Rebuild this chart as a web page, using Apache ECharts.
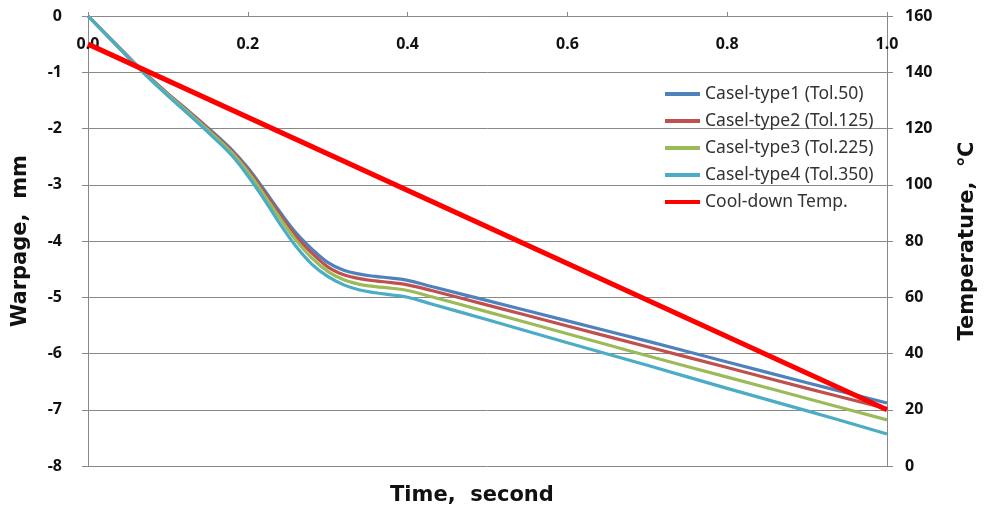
<!DOCTYPE html>
<html>
<head>
<meta charset="utf-8">
<script src="https://cdn.jsdelivr.net/npm/echarts@6/dist/echarts.min.js"></script>
<style>
html,body{margin:0;padding:0;background:#fff;}
#chart{width:984px;height:510px;}
</style>
</head>
<body>
<div id="chart"></div>
<script>
// Time points (second)
var timeSec = [0, 0.05, 0.07, 0.1, 0.13, 0.155, 0.18, 0.2, 0.22, 0.24, 0.26, 0.28, 0.3, 0.32, 0.34, 0.36, 0.38, 0.4, 0.43, 0.5, 0.6, 0.7, 0.8, 0.9, 1.0];
// Warpage (mm)
var type1 = [0, -0.72, -1.0, -1.38, -1.74, -2.05, -2.38, -2.7, -3.08, -3.48, -3.85, -4.14, -4.38, -4.52, -4.59, -4.63, -4.66, -4.7, -4.81, -5.06, -5.42, -5.78, -6.15, -6.52, -6.88];
var type2 = [0, -0.72, -1.0, -1.39, -1.75, -2.07, -2.4, -2.73, -3.12, -3.53, -3.91, -4.21, -4.46, -4.6, -4.67, -4.71, -4.74, -4.78, -4.88, -5.14, -5.51, -5.88, -6.25, -6.62, -6.98];
var type3 = [0, -0.73, -1.01, -1.4, -1.77, -2.09, -2.43, -2.77, -3.17, -3.59, -3.98, -4.3, -4.54, -4.69, -4.77, -4.81, -4.84, -4.88, -4.99, -5.26, -5.65, -6.04, -6.42, -6.8, -7.18];
var type4 = [0, -0.73, -1.02, -1.42, -1.8, -2.13, -2.48, -2.84, -3.25, -3.69, -4.09, -4.41, -4.63, -4.78, -4.87, -4.92, -4.96, -5.0, -5.12, -5.4, -5.81, -6.21, -6.62, -7.02, -7.43];
// Cool-down temperature (°C)
var tempTime = [0, 1.0];
var tempVals = [150, 20];

var seriesNames = ['Casel-type1 (Tol.50)', 'Casel-type2 (Tol.125)', 'Casel-type3 (Tol.225)', 'Casel-type4 (Tol.350)', 'Cool-down Temp.'];
var colors = ['#4F81BD', '#C0504D', '#9BBB59', '#4BACC6', '#FF0000'];

function pairs(xs, ys){ return xs.map(function(x,i){ return [x, ys[i]]; }); }
var warp = [type1, type2, type3, type4];

var series = warp.map(function(arr, i){
  return {
    name: seriesNames[i], type: 'line', xAxisIndex: 0, yAxisIndex: 0,
    data: pairs(timeSec, arr), smooth: 0.4, showSymbol: false,
    lineStyle: {width: 3.2, color: colors[i]}, itemStyle: {color: colors[i]}
  };
});
series.push({
  name: seriesNames[4], type: 'line', xAxisIndex: 0, yAxisIndex: 1,
  data: pairs(tempTime, tempVals), showSymbol: false,
  lineStyle: {width: 5, color: colors[4]}, itemStyle: {color: colors[4]}
});

var font = '"Noto Sans", "DejaVu Sans", sans-serif';
var titleFont = '"DejaVu Sans", "Noto Sans", sans-serif';
var chart = echarts.init(document.getElementById('chart'), null, {renderer: 'canvas'});
chart.setOption({
  animation: false,
  backgroundColor: '#fff',
  grid: {left: 88, right: 97, top: 16, bottom: 44, containLabel: false, outerBoundsMode: 'none'},
  legend: {
    orient: 'vertical', left: 660, top: 80,
    itemWidth: 35, itemHeight: 4, itemGap: 9, icon: 'rect',
    textStyle: {fontFamily: font, fontSize: 17.5, color: '#333', lineHeight: 18},
    data: seriesNames
  },
  xAxis: {
    type: 'value', position: 'top', min: 0, max: 1, interval: 0.2,
    axisLine: {show: true, lineStyle: {color: '#888', width: 1}},
    axisTick: {show: true, inside: false, length: 4, lineStyle: {color: '#888'}},
    axisLabel: {inside: true, margin: 20, fontFamily: font, fontSize: 16, fontWeight: 'bold', color: '#111',
      formatter: function(v){ return v.toFixed(1); }},
    splitLine: {show: false}
  },
  yAxis: [{
    type: 'value', min: -8, max: 0, interval: 1, position: 'left',
    name: 'Warpage,  mm', nameLocation: 'middle', nameRotate: 90, nameGap: 57,
    nameTextStyle: {fontFamily: titleFont, fontSize: 21, fontWeight: 'bold', color: '#111'},
    axisLine: {show: true, lineStyle: {color: '#888'}},
    axisTick: {show: true, inside: false, length: 6, lineStyle: {color: '#888'}},
    axisLabel: {margin: 26, fontFamily: font, fontSize: 16, fontWeight: 'bold', color: '#111'},
    splitLine: {show: true, lineStyle: {color: '#888', width: 1}}
  }, {
    type: 'value', min: 0, max: 160, interval: 20, position: 'right',
    name: 'Temperature,  \u2103', nameLocation: 'middle', nameRotate: 90, nameGap: 70,
    nameTextStyle: {fontFamily: titleFont, fontSize: 21, fontWeight: 'bold', color: '#111'},
    axisLine: {show: true, lineStyle: {color: '#888'}},
    axisTick: {show: true, inside: false, length: 6, lineStyle: {color: '#888'}},
    axisLabel: {margin: 18, fontFamily: font, fontSize: 16, fontWeight: 'bold', color: '#111'},
    splitLine: {show: false}
  }],
  graphic: [{
    type: 'text', left: 390, top: 485,
    style: {text: 'Time,  second', font: 'bold 21px "DejaVu Sans", sans-serif', fill: '#111'}
  }],
  series: series
});
</script>
</body>
</html>
